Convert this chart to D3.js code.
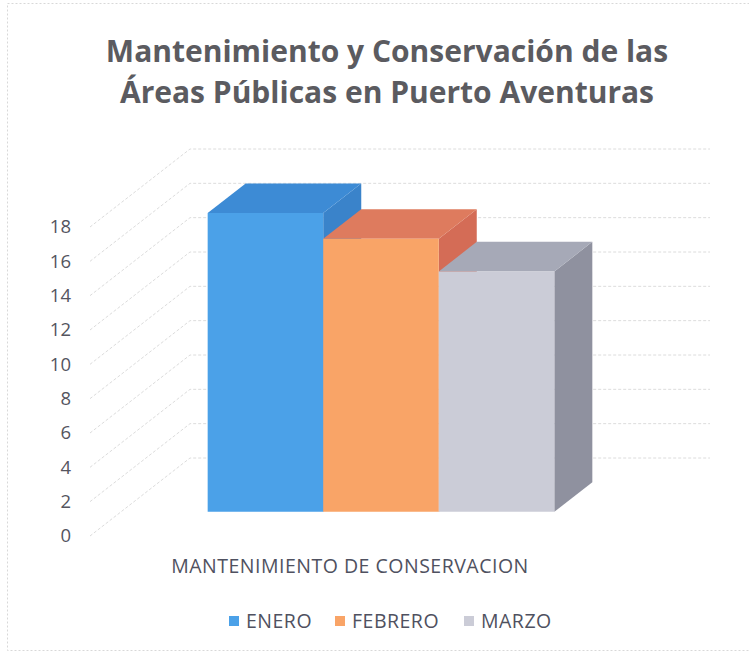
<!DOCTYPE html>
<html>
<head>
<meta charset="utf-8">
<script src="https://cdn.jsdelivr.net/npm/d3@7"></script>
<style>
  body { margin: 0; background: #fff; }
  text { font-family: "Open Sans", "Noto Sans", sans-serif; }
</style>
</head>
<body>
<div id="chart"></div>
<script>

// data
var titleLines = ["Mantenimiento y Conservación de las", "Áreas Públicas en Puerto Aventuras"];
var categories = ["MANTENIMIENTO DE CONSERVACION"];
var seriesNames = ["ENERO", "FEBRERO", "MARZO"];
var seriesValues = [17.4, 15.9, 14];
var yTicks = [0, 2, 4, 6, 8, 10, 12, 14, 16, 18];

// colours: front / top / side of each box
var frontColors = ["#4ba1e8", "#f9a467", "#cbccd7"];
var topColors = ["#3d8bd5", "#de7b5e", "#a6a9b7"];
var sideColors = ["#3a83ca", "#d46c56", "#8f919f"];

var width = 749, height = 655;

var svg = d3.select("#chart").append("svg")
  .attr("width", width)
  .attr("height", height);

// light chart-area border
svg.append("rect")
  .attr("x", 7.5).attr("y", 3.5)
  .attr("width", 745).attr("height", 647)
  .attr("fill", "none")
  .attr("stroke", "#d8d8d8")
  .attr("stroke-dasharray", "2,2");

// title
svg.selectAll(".title")
  .data(titleLines)
  .enter().append("text")
  .attr("class", "title")
  .attr("x", 387)
  .attr("y", function(d, i) { return 62 + i * 41; })
  .attr("text-anchor", "middle")
  .attr("font-size", 30)
  .attr("font-weight", "bold")
  .attr("fill", "#5b5b60")
  .text(function(d) { return d; });

// oblique 3d set-up: z = 0 front of floor, z = 1 back wall
var depthX = 100, depthY = 78;
var x0 = 90, x1 = 610;

var y = d3.scaleLinear()
  .domain([0, 18])
  .range([536, 227]);

function proj(x, v, z) {
  return [x + z * depthX, y(v) - z * depthY];
}

var xCat = d3.scaleBand()
  .domain(categories)
  .range([x0, x1])
  .paddingOuter(0.25)
  .paddingInner(0);

var xSer = d3.scaleBand()
  .domain(seriesNames)
  .range([0, xCat.bandwidth()]);

var zFront = 0.31, zBack = 0.69;

// gridlines: side wall and back wall
var grid = svg.append("g").attr("class", "grid");

grid.selectAll(".wall-line")
  .data(yTicks)
  .enter().append("path")
  .attr("class", "wall-line")
  .attr("d", function(d) {
    return d3.line()([proj(x0, d, 0), proj(x0, d, 1), proj(x1, d, 1)]);
  })
  .attr("fill", "none")
  .attr("stroke", "#dcdcdc")
  .attr("stroke-dasharray", "3,2")
  .attr("stroke-width", 1);

// axis labels
svg.selectAll(".ytick")
  .data(yTicks)
  .enter().append("text")
  .attr("class", "ytick")
  .attr("x", 71)
  .attr("y", function(d) { return y(d); })
  .attr("dy", "0.35em")
  .attr("text-anchor", "end")
  .attr("font-size", 18.5)
  .attr("fill", "#55555f")
  .text(function(d) { return d; });

// boxes
var line = d3.line();
var bars = svg.append("g").attr("class", "bars");

categories.forEach(function(cat) {
  seriesNames.forEach(function(name, i) {
    var v = seriesValues[i];
    var xl = xCat(cat) + xSer(name);
    var xr = xl + xSer.bandwidth();
    var g = bars.append("g").attr("class", "bar");

    // right side
    g.append("path")
      .attr("d", line([proj(xr, 0, zFront), proj(xr, v, zFront), proj(xr, v, zBack), proj(xr, 0, zBack)]) + "Z")
      .attr("fill", sideColors[i]);

    // top
    g.append("path")
      .attr("d", line([proj(xl, v, zFront), proj(xr, v, zFront), proj(xr, v, zBack), proj(xl, v, zBack)]) + "Z")
      .attr("fill", topColors[i]);

    // front
    g.append("path")
      .attr("d", line([proj(xl, 0, zFront), proj(xr, 0, zFront), proj(xr, v, zFront), proj(xl, v, zFront)]) + "Z")
      .attr("fill", frontColors[i]);
  });
});

// category label
svg.selectAll(".xlabel")
  .data(categories)
  .enter().append("text")
  .attr("class", "xlabel")
  .attr("x", function(d) { return xCat(d) + xCat.bandwidth() / 2; })
  .attr("y", 573)
  .attr("text-anchor", "middle")
  .attr("font-size", 19.5)
  .attr("letter-spacing", 0.5)
  .attr("fill", "#4f5160")
  .text(function(d) { return d; });

// legend
var legendX = [229, 335, 464];
var legend = svg.selectAll(".legend")
  .data(seriesNames)
  .enter().append("g")
  .attr("class", "legend")
  .attr("transform", function(d, i) { return "translate(" + legendX[i] + ",621)"; });

legend.append("rect")
  .attr("x", 0).attr("y", -5)
  .attr("width", 10).attr("height", 10)
  .attr("fill", function(d, i) { return frontColors[i]; });

legend.append("text")
  .attr("x", 17)
  .attr("y", 0)
  .attr("dy", "0.36em")
  .attr("font-size", 19.5)
  .attr("letter-spacing", 0.5)
  .attr("fill", "#4f5160")
  .text(function(d) { return d; });

</script>
</body>
</html>
